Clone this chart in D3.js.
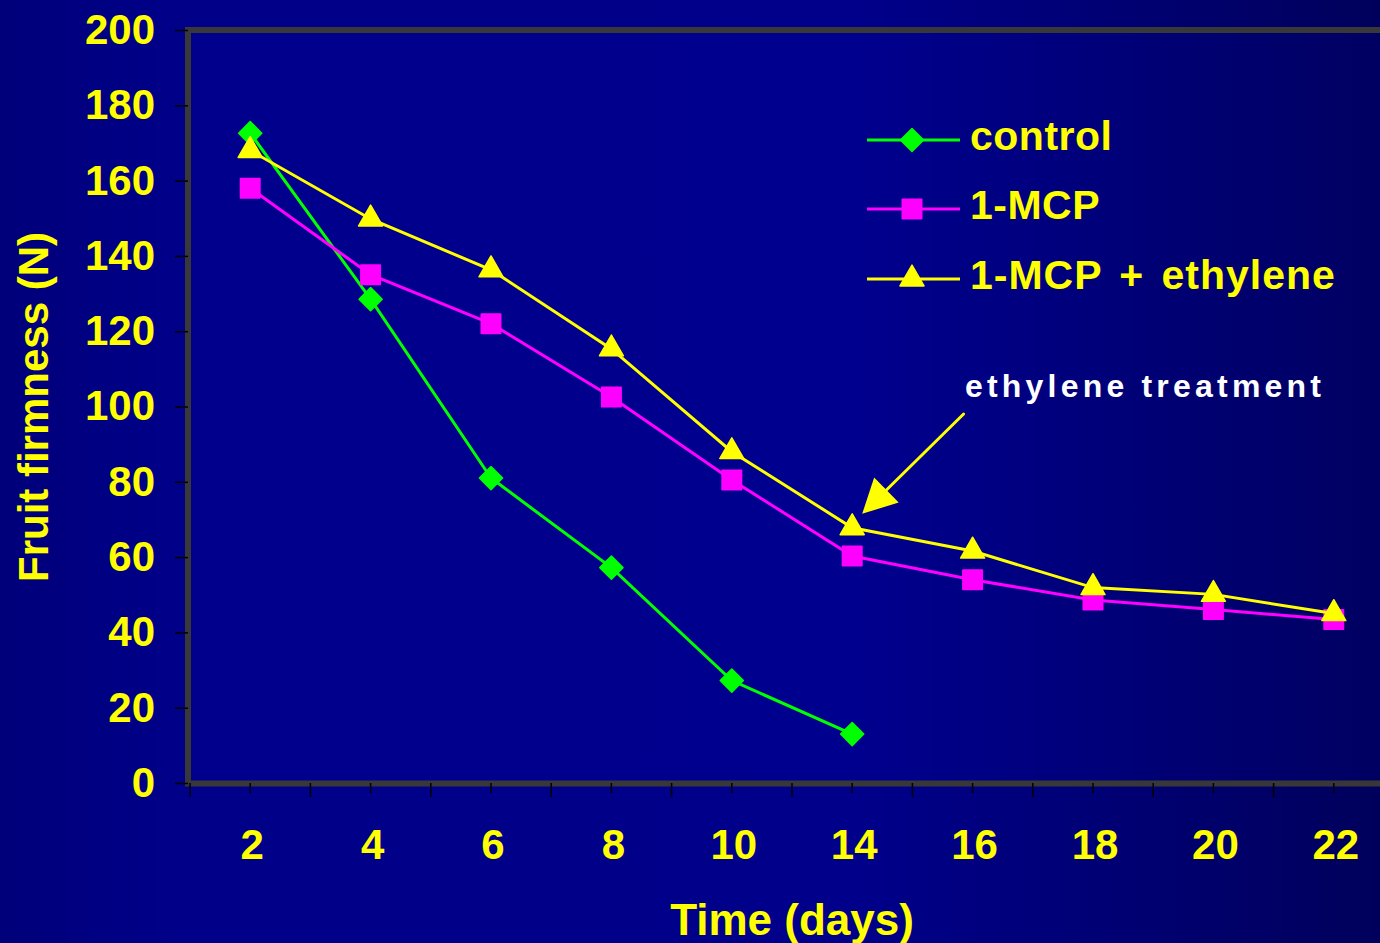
<!DOCTYPE html>
<html>
<head>
<meta charset="utf-8">
<script src="https://cdn.jsdelivr.net/npm/d3@7"></script>
<style>
  html, body { margin: 0; padding: 0; background: #000080; }
  svg { display: block; }
  text { font-family: "Liberation Sans", Arial, sans-serif; font-weight: bold; }
</style>
</head>
<body>
<svg id="chart" width="1380" height="943"></svg>
<script>
// ---- data ----
const categories = ["2", "4", "6", "8", "10", "14", "16", "18", "20", "22"];
const controlValues = [172.6, 128.5, 81.0, 57.2, 27.2, 13.0];
const mcpValues = [158.0, 135.0, 122.0, 102.5, 80.5, 60.3, 54.0, 48.6, 46.1, 43.4];
const mcpEthValues = [168.0, 149.8, 136.3, 115.3, 88.0, 67.8, 61.6, 51.9, 50.1, 45.0];
const yTicks = [0, 20, 40, 60, 80, 100, 120, 140, 160, 180, 200];
const seriesNames = ["control", "1-MCP", "1-MCP + ethylene"];
const annotationText = "ethylene treatment";

const W = 1380, H = 943;
const svg = d3.select("#chart");

// background gradient
const defs = svg.append("defs");
const bg = defs.append("linearGradient").attr("id", "bg").attr("x1", "0").attr("x2", "1").attr("y1", "0").attr("y2", "0");
bg.append("stop").attr("offset", "0%").attr("stop-color", "#00007a");
bg.append("stop").attr("offset", "12%").attr("stop-color", "#000088");
bg.append("stop").attr("offset", "62%").attr("stop-color", "#00008a");
bg.append("stop").attr("offset", "100%").attr("stop-color", "#00005c");
svg.append("rect").attr("width", W).attr("height", H).attr("fill", "url(#bg)");

// scales
const x = d3.scaleBand().domain(categories).range([190, 1394]);
const y = d3.scaleLinear().domain([0, 200]).range([783, 30]);
const cx = c => x(c) + x.bandwidth() / 2;

// plot frame
svg.append("rect")
  .attr("x", 188).attr("y", y(200))
  .attr("width", 1300).attr("height", y(0) - y(200) + 0.5)
  .attr("fill", "#0000ff").attr("fill-opacity", 0.04)
  .attr("stroke", "#383838").attr("stroke-width", 6);

// y axis
const yAxis = svg.append("g").attr("transform", "translate(188,0)")
  .call(d3.axisLeft(y).tickValues(yTicks).tickSize(13).tickPadding(20));
yAxis.select(".domain").remove();
yAxis.selectAll(".tick line").attr("stroke", "#000").attr("stroke-width", 1.5);
yAxis.selectAll(".tick text").attr("fill", "#ffff00").attr("font-size", 42)
  .style("font-family", "'Liberation Sans', Arial, sans-serif").style("font-weight", "bold");

// x axis
const xAxisG = svg.append("g").attr("transform", `translate(0,${y(0)})`);
const xAxis = d3.axisBottom(x).tickSize(10).tickPadding(36);
xAxisG.call(xAxis);
xAxisG.select(".domain").remove();
xAxisG.selectAll(".tick line").attr("stroke", "#000").attr("stroke-width", 1.5);
xAxisG.selectAll(".tick text").attr("fill", "#ffff00").attr("font-size", 42).attr("dx", 2)
  .style("font-family", "'Liberation Sans', Arial, sans-serif").style("font-weight", "bold");
// boundary ticks
const bounds = categories.map(c => x(c));
xAxisG.selectAll(".btick").data(bounds).enter().append("line")
  .attr("x1", d => d).attr("x2", d => d).attr("y1", 0).attr("y2", 14)
  .attr("stroke", "#000").attr("stroke-width", 1.5);

// axis titles
svg.append("text").attr("x", 792).attr("y", 935).attr("text-anchor", "middle")
  .attr("fill", "#ffff00").attr("font-size", 44).text("Time (days)");
svg.append("text").attr("transform", "translate(48,407) rotate(-90)").attr("text-anchor", "middle")
  .attr("fill", "#ffff00").attr("font-size", 42).text("Fruit firmness (N)");

// symbols
const diamond = d3.symbol().type(d3.symbolSquare).size(268)();
const square = d3.symbol().type(d3.symbolSquare).size(380)();
const triangle = d3.symbol().type(d3.symbolTriangle).size(250)();

const series = [
  { name: seriesNames[0], values: controlValues, color: "#00ff00", path: diamond, rot: 45 },
  { name: seriesNames[1], values: mcpValues, color: "#ff00ff", path: square, rot: 0 },
  { name: seriesNames[2], values: mcpEthValues, color: "#ffff00", path: triangle, rot: 0 }
];

const line = d3.line().x(d => cx(d.c)).y(d => y(d.v));

series.forEach(s => {
  const pts = s.values.map((v, i) => ({ c: categories[i], v }));
  const g = svg.append("g");
  g.append("path").datum(pts).attr("d", line).attr("fill", "none")
    .attr("stroke", s.color).attr("stroke-width", 3);
  g.selectAll("path.m").data(pts).enter().append("path").attr("class", "m")
    .attr("d", s.path)
    .attr("transform", d => `translate(${cx(d.c)},${y(d.v)}) rotate(${s.rot})`)
    .attr("fill", s.color).attr("stroke", s.color).attr("stroke-width", 1.5)
    .attr("stroke-linejoin", "round");
});

// legend
const legendY = [140, 209, 279];
series.forEach((s, i) => {
  const g = svg.append("g").attr("transform", `translate(0,${legendY[i]})`);
  g.append("line").attr("x1", 867).attr("x2", 960).attr("y1", 0).attr("y2", 0)
    .attr("stroke", s.color).attr("stroke-width", 3);
  g.append("path").attr("d", s.path)
    .attr("transform", `translate(912,0) rotate(${s.rot})`)
    .attr("fill", s.color).attr("stroke", s.color).attr("stroke-width", 1.5).attr("stroke-linejoin", "round");
  g.append("text").attr("x", 970).attr("y", 9.5).attr("fill", "#ffff00").attr("font-size", 41)
    .attr("letter-spacing", i === 2 ? 1.0 : 0.5)
    .attr("word-spacing", i === 2 ? 5 : 0)
    .text(s.name);
});

// annotation
const tailX = cx("16") - 9, tailY = y(98);
const tipX = cx("14") + 10, tipY = y(71.5);
const ang = Math.atan2(tipY - tailY, tipX - tailX);
const headLen = 34, headHalf = 17.5;
const baseX = tipX - headLen * Math.cos(ang), baseY = tipY - headLen * Math.sin(ang);
svg.append("line").attr("x1", tailX).attr("y1", tailY).attr("x2", baseX).attr("y2", baseY)
  .attr("stroke", "#ffff00").attr("stroke-width", 3).attr("stroke-linecap", "round");
svg.append("polygon").attr("points", [
  [tipX, tipY],
  [baseX + headHalf * Math.sin(ang), baseY - headHalf * Math.cos(ang)],
  [baseX - headHalf * Math.sin(ang), baseY + headHalf * Math.cos(ang)]
].map(p => p.join(",")).join(" ")).attr("fill", "#ffff00");
svg.append("text").attr("x", 965).attr("y", y(102.5)).attr("fill", "#ffffff")
  .attr("font-size", 32).attr("letter-spacing", 4.2).text(annotationText);
</script>
</body>
</html>
